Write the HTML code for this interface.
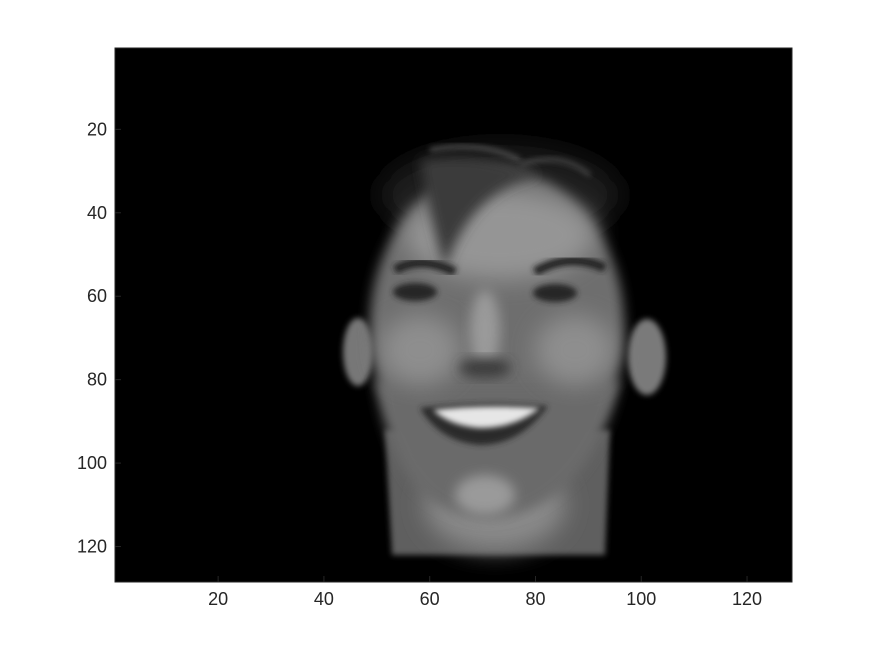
<!DOCTYPE html>
<html><head><meta charset="utf-8"><style>
html,body{margin:0;padding:0;background:#fff;}
svg{display:block;font-family:"Liberation Sans",Arial,sans-serif;}
</style></head><body>
<svg id="chart" width="875" height="656" viewBox="0 0 875 656" xmlns="http://www.w3.org/2000/svg">
<defs>
<filter id="b6" x="-30%" y="-30%" width="160%" height="160%"><feGaussianBlur stdDeviation="6"/></filter>
<filter id="b3" x="-30%" y="-30%" width="160%" height="160%"><feGaussianBlur stdDeviation="3"/></filter>
<filter id="b12" x="-30%" y="-30%" width="160%" height="160%"><feGaussianBlur stdDeviation="12"/></filter>
<clipPath id="clip"><rect x="115" y="48" width="677" height="534"/></clipPath>
</defs>
<rect x="115" y="48" width="677" height="534" fill="#000"/>
<g id="face" clip-path="url(#clip)">
  <!-- hair -->
  <ellipse cx="500" cy="195" rx="120" ry="50" fill="#1e1e1e" filter="url(#b12)"/>
  <!-- neck -->
  <path d="M385 430 L610 430 L605 555 L392 555 Z" fill="#5f5f5f" filter="url(#b3)"/>
  <ellipse cx="495" cy="505" rx="70" ry="45" fill="#8a8a8a" filter="url(#b12)"/>
  <!-- ears -->
  <ellipse cx="358" cy="352" rx="15" ry="34" fill="#777" filter="url(#b3)"/>
  <ellipse cx="647" cy="357" rx="19" ry="38" fill="#7a7a7a" filter="url(#b3)"/>
  <!-- head -->
  <ellipse cx="497" cy="325" rx="127" ry="155" fill="#6e6e6e" filter="url(#b6)"/>
  <path d="M375 380 Q390 470 430 500 Q480 535 540 505 Q600 470 620 380 Z" fill="#6a6a6a" filter="url(#b6)"/>
  <!-- forehead bright -->
  <ellipse cx="500" cy="235" rx="95" ry="45" fill="#959595" filter="url(#b12)"/>
  <!-- hair strand -->
  <path d="M420 160 Q480 150 540 175 Q470 190 445 270 Q430 220 420 160Z" fill="#3a3a3a" filter="url(#b6)"/>
  <path d="M430 150 Q480 140 520 160" stroke="#555" stroke-width="4" fill="none" filter="url(#b3)"/>
  <path d="M520 165 Q560 150 590 175" stroke="#4a4a4a" stroke-width="4" fill="none" filter="url(#b3)"/>
  <!-- cheeks -->
  <ellipse cx="420" cy="350" rx="40" ry="35" fill="#8e8e8e" filter="url(#b12)"/>
  <ellipse cx="575" cy="350" rx="40" ry="35" fill="#8e8e8e" filter="url(#b12)"/>
  <!-- eyebrows -->
  <path d="M395 270 Q420 255 455 272" stroke="#222" stroke-width="9" fill="none" filter="url(#b3)"/>
  <path d="M535 272 Q570 252 605 268" stroke="#222" stroke-width="9" fill="none" filter="url(#b3)"/>
  <!-- eyes -->
  <ellipse cx="415" cy="292" rx="22" ry="9" fill="#262626" filter="url(#b3)"/>
  <ellipse cx="555" cy="293" rx="22" ry="9" fill="#262626" filter="url(#b3)"/>
  <!-- nose -->
  <ellipse cx="485" cy="330" rx="15" ry="40" fill="#9a9a9a" filter="url(#b6)"/>
  <ellipse cx="485" cy="368" rx="26" ry="10" fill="#3a3a3a" filter="url(#b6)"/>
  <!-- mouth -->
  <path d="M420 408 Q485 400 548 406 Q520 445 480 445 Q440 442 420 408Z" fill="#2b2b2b" filter="url(#b3)"/>
  <path d="M433 410 Q485 404 540 408 Q515 428 480 428 Q450 426 433 410Z" fill="#e6e6e6" filter="url(#b3)"/>
  <!-- chin -->
  <ellipse cx="485" cy="495" rx="30" ry="20" fill="#9a9a9a" filter="url(#b6)"/>
</g>
<rect x="115" y="48" width="677" height="534" fill="none" stroke="#262626" stroke-width="1"/>
<g id="xticks"></g>
<g id="yticks"></g>
<script>
const imgCols = 128;
const imgRows = 128;
const xTickValues = [20, 40, 60, 80, 100, 120];
const yTickValues = [20, 40, 60, 80, 100, 120];
const X0 = 115, X1 = 792, Y0 = 48, Y1 = 582;
function xs(v){ return X0 + (v - 0.5) / imgCols * (X1 - X0); }
function ys(v){ return Y0 + (v - 0.5) / imgRows * (Y1 - Y0); }
const NS = "http://www.w3.org/2000/svg";
const gx = document.getElementById('xticks');
const gy = document.getElementById('yticks');
xTickValues.forEach(v => {
  const x = xs(v);
  const l = document.createElementNS(NS, 'line');
  
  
  l.setAttribute('x1', x); l.setAttribute('x2', x);
  l.setAttribute('y1', Y1); l.setAttribute('y2', Y1 - 6);
  l.setAttribute('stroke', '#262626');
  gx.appendChild(l);
  const t = document.createElementNS(NS, 'text');
  
  
  t.setAttribute('x', x); t.setAttribute('y', Y1 + 23);
  t.setAttribute('text-anchor', 'middle');
  t.setAttribute('font-size', '18'); t.setAttribute('fill', '#262626');
  t.textContent = v;
  gx.appendChild(t);
});
yTickValues.forEach(v => {
  const y = ys(v);
  const l = document.createElementNS(NS, 'line');
  
  
  l.setAttribute('x1', X0); l.setAttribute('x2', X0 + 6);
  l.setAttribute('y1', y); l.setAttribute('y2', y);
  l.setAttribute('stroke', '#262626');
  gy.appendChild(l);
  const t = document.createElementNS(NS, 'text');
  
  
  t.setAttribute('x', X0 - 8); t.setAttribute('y', y + 6);
  t.setAttribute('text-anchor', 'end');
  t.setAttribute('font-size', '18'); t.setAttribute('fill', '#262626');
  t.textContent = v;
  gy.appendChild(t);
});
</script>
</svg>
</body></html>
